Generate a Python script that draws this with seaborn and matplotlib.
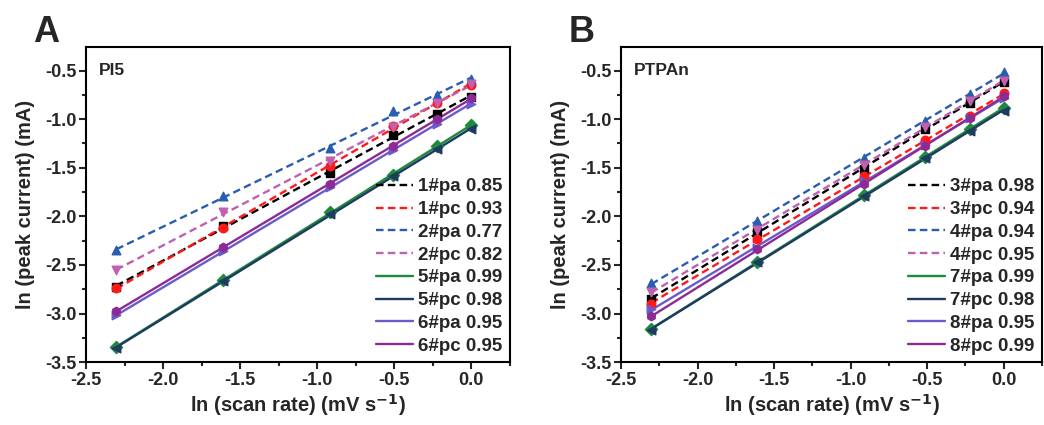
import numpy as np
import pandas as pd
import matplotlib
matplotlib.use("Agg")
import matplotlib.pyplot as plt
from matplotlib.ticker import MultipleLocator, FormatStrFormatter
import seaborn as sns

# ---------------- data ----------------
x_vals = [-2.303, -1.609, -0.916, -0.511, -0.223, 0.0]

labels_A = ["1#pa 0.85", "1#pc 0.93", "2#pa 0.77", "2#pc 0.82",
            "5#pa 0.99", "5#pc 0.98", "6#pa 0.95", "6#pc 0.95"]
y_A_1pa = [-2.73, -2.10, -1.55, -1.16, -0.95, -0.77]
y_A_1pc = [-2.74, -2.12, -1.48, -1.07, -0.83, -0.65]
y_A_2pa = [-2.35, -1.79, -1.30, -0.92, -0.75, -0.59]
y_A_2pc = [-2.55, -1.96, -1.43, -1.08, -0.83, -0.64]
y_A_5pa = [-3.34, -2.66, -1.96, -1.57, -1.28, -1.06]
y_A_5pc = [-3.35, -2.67, -1.98, -1.59, -1.31, -1.10]
y_A_6pa = [-3.02, -2.36, -1.70, -1.32, -1.05, -0.84]
y_A_6pc = [-2.97, -2.32, -1.67, -1.28, -1.00, -0.78]

labels_B = ["3#pa 0.98", "3#pc 0.94", "4#pa 0.94", "4#pc 0.95",
            "7#pa 0.99", "7#pc 0.98", "8#pa 0.95", "8#pc 0.99"]
y_B_3pa = [-2.85, -2.16, -1.51, -1.10, -0.83, -0.62]
y_B_3pc = [-2.90, -2.23, -1.59, -1.22, -0.97, -0.73]
y_B_4pa = [-2.69, -2.05, -1.40, -1.02, -0.74, -0.52]
y_B_4pc = [-2.78, -2.14, -1.47, -1.08, -0.81, -0.61]
y_B_7pa = [-3.16, -2.47, -1.78, -1.39, -1.10, -0.89]
y_B_7pc = [-3.17, -2.47, -1.79, -1.40, -1.12, -0.92]
y_B_8pa = [-2.95, -2.33, -1.64, -1.27, -0.99, -0.78]
y_B_8pc = [-3.03, -2.34, -1.67, -1.28, -0.99, -0.76]

series_A = [y_A_1pa, y_A_1pc, y_A_2pa, y_A_2pc, y_A_5pa, y_A_5pc, y_A_6pa, y_A_6pc]
series_B = [y_B_3pa, y_B_3pc, y_B_4pa, y_B_4pc, y_B_7pa, y_B_7pc, y_B_8pa, y_B_8pc]

# ---------------- styles ----------------
colors = ["#000000", "#ff1a1a", "#2a5db0", "#c060b0",
          "#1e8a3c", "#1f3a63", "#6a5acd", "#8e2a96"]
markers = ["s", "o", "^", "v", "D", "<", ">", "h"]
styles = ["--", "--", "--", "--", "-", "-", "-", "-"]

sns.set_style("ticks")
plt.rcParams["font.family"] = ["Liberation Sans", "DejaVu Sans"]
plt.rcParams["font.weight"] = "bold"
plt.rcParams["axes.labelweight"] = "bold"
plt.rcParams["mathtext.default"] = "bf"

fig = plt.figure(figsize=(10.44, 4.25), dpi=100)
axA = fig.add_axes([0.0824, 0.148, 0.406, 0.741])
axB = fig.add_axes([0.595, 0.148, 0.403, 0.741])


def draw(ax, series, labels, title):
    for ys, lab, c, m, ls in zip(series, labels, colors, markers, styles):
        df = pd.DataFrame({"x": x_vals, "y": ys})
        sns.regplot(data=df, x="x", y="y", ax=ax, ci=None, marker=m,
                    color=c,
                    scatter_kws={"s": 38, "alpha": 1, "zorder": 3},
                    line_kws={"lw": 1.7, "ls": ls, "label": lab, "zorder": 2,
                              "dashes": (3.2, 1.8) if ls == "--" else (None, None)})
    ax.set_xlim(-2.5, 0.25)
    ax.set_ylim(-3.5, -0.26)
    ax.xaxis.set_major_locator(MultipleLocator(0.5))
    ax.xaxis.set_minor_locator(MultipleLocator(0.25))
    ax.yaxis.set_major_locator(MultipleLocator(0.5))
    ax.yaxis.set_minor_locator(MultipleLocator(0.25))
    ax.xaxis.set_major_formatter(FormatStrFormatter("%.1f"))
    ax.yaxis.set_major_formatter(FormatStrFormatter("%.1f"))
    ax.tick_params(which="major", direction="out", length=5, width=1.5,
                   labelsize=13, pad=2, top=False, right=False)
    ax.tick_params(which="minor", direction="out", length=3, width=1.5,
                   top=False, right=False)
    for sp in ax.spines.values():
        sp.set_visible(True)
        sp.set_linewidth(1.5)
        sp.set_color("black")
    ax.set_xlabel("ln (scan rate) (mV s$^{-1}$)", fontsize=14.5,
                  fontweight="bold", labelpad=2)
    ax.set_ylabel("ln (peak current) (mA)", fontsize=14.5,
                  fontweight="bold", labelpad=7)
    ax.text(0.03, 0.95, title, transform=ax.transAxes, fontsize=12.5,
            fontweight="bold", va="top", ha="left")
    leg = ax.legend(handles=ax.lines, loc="lower right", frameon=False,
                    fontsize=13.5, handlelength=2.0, handletextpad=0.25,
                    labelspacing=0.3, borderaxespad=0.0,
                    bbox_to_anchor=(1.0, 0.0))
    for t in leg.get_texts():
        t.set_fontweight("bold")


draw(axA, series_A, labels_A, "PI5")
draw(axB, series_B, labels_B, "PTPAn")

fig.text(0.032, 0.9, "A", fontsize=26, fontweight="bold")
fig.text(0.545, 0.9, "B", fontsize=26, fontweight="bold")

fig.savefig("out.png", dpi=100, facecolor="white")
